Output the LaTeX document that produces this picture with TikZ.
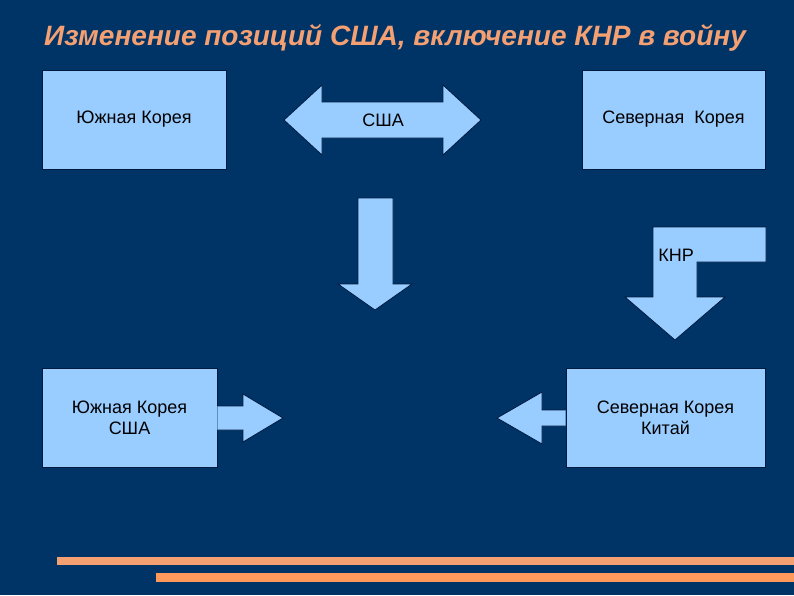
\documentclass[tikz,border=0pt]{standalone}
\usepackage{fontspec}
\setmainfont{Liberation Sans}
\usetikzlibrary{positioning}

\definecolor{bgblue}{HTML}{003366}
\definecolor{boxblue}{HTML}{99CCFF}
\definecolor{edgeblue}{HTML}{001A40}
\definecolor{titleorange}{HTML}{F4A072}
\definecolor{lineorange}{HTML}{FF9A5C}

\tikzset{
  box/.style={draw=edgeblue, fill=boxblue, line width=0.8pt, minimum height=99pt,
    inner sep=0pt, align=center, font=\fontsize{18}{21}\selectfont},
  blockarrow/.style={draw=edgeblue, fill=boxblue, line width=0.8pt, line join=miter},
  label/.style={inner sep=0pt, font=\fontsize{18}{21}\selectfont},
}

\begin{document}
\begin{tikzpicture}[x=1pt, y=-1pt]

  % Background
  \fill[bgblue] (0,0) rectangle (794,595);
  \useasboundingbox (0,0) rectangle (794,595);

  % Title
  \node[anchor=base west, inner sep=0pt, text=titleorange,
    font=\fontsize{28}{32}\selectfont\bfseries\itshape] (title) at (44,45)
    {Изменение позиций США, включение КНР в войну};

  % Define nodes
  \node[box, minimum width=184pt] (sk)  at (134,119.5) {Южная Корея};
  \node[box, minimum width=183pt] (nk)  at (673.5,119.5) {Северная \ Корея};
  \node[box, minimum width=175pt] (skus) at (129.5,418) {Южная Корея\\США};
  \node[box, minimum width=199pt] (nkcn) at (665.5,418) {Северная Корея\\Китай};

  % Arrows
  \draw[blockarrow] (284,120) -- (322,85) -- (322,102) -- (443,102) -- (443,85)
    -- (481,120) -- (443,155) -- (443,138) -- (322,138) -- (322,155) -- cycle;
  \node[label] (us) at (383,120) {США};

  \draw[blockarrow] (358,198) -- (393,198) -- (393,284) -- (412,284) -- (375,310)
    -- (338,284) -- (358,284) -- cycle;

  \draw[blockarrow] (653,227) -- (766,227) -- (766,262) -- (697,262) -- (697,297)
    -- (725,297) -- (675,340) -- (625,297) -- (653,297) -- cycle;
  \node[label] (prc) at (676,255) {КНР};

  \draw[blockarrow] (skus.east |- 0,406) -- (243,406) -- (243,394) -- (283,418)
    -- (243,442) -- (243,430) -- (skus.east |- 0,430);
  \draw[blockarrow] (nkcn.west |- 0,410) -- (542,410) -- (542,392) -- (497,418)
    -- (542,444) -- (542,426) -- (nkcn.west |- 0,426);

  % Bottom lines
  \fill[titleorange] (57,557) rectangle (794,565);
  \fill[lineorange] (156,573) rectangle (794,582);

\end{tikzpicture}
\end{document}
